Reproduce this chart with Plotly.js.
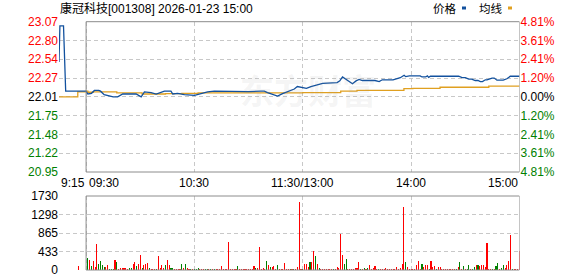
<!DOCTYPE html>
<html><head><meta charset="utf-8">
<script src="https://cdn.plot.ly/plotly-3.0.1.min.js"></script>
<style>html,body{margin:0;padding:0;background:#fff}#chart{width:578px;height:276px}</style>
</head><body><div id="chart"></div>
<script>
// ---------- data ----------
const stockName = '康冠科技';
const stockCode = '001308';
const stamp = '2026-01-23 15:00';
const seriesNames = ['价格', '均线'];
const preClose = 22.01;
const maxPct = 4.81;
const priceTickLabels = ['23.07','22.80','22.54','22.27','22.01','21.75','21.48','21.22','20.95'];
const pctTickLabels = ['4.81%','3.61%','2.41%','1.20%','0.00%','1.20%','2.41%','3.61%','4.81%'];
const volTickVals = [0, 433, 865, 1298, 1730];
const timeTickVals = [-15, 0, 60, 120, 180, 240];
const timeTickLabels = ['9:15', '09:30', '10:30', '11:30/13:00', '14:00', '15:00'];

// minutes from 09:30 (negative = call auction) / price
const priceT = [-15,-14.5,-12.5,-12.2,-11.3,0,1,3,4.6,7,8,10,12.9,15,17.5,20.3,27.7,29,30.5,32.3,36,38.8,40.6,43.4,47,48,50.7,54.4,60,63.7,67.3,71,80,90,96.8,98.7,100.5,103.3,106,108.8,112.5,115.3,117,120,122,124.5,128,131,139,140.5,142,143.8,145.5,147.5,149.5,151.2,153,160,162.3,164,170,172.4,174,176.1,177,179,185,186,188,189,189.7,190.7,206.3,208.2,210,211.9,213.5,215.5,217,218.3,219.5,221.1,222,224.8,226,227.5,231,233,234.9,240];
const priceV = [22.50,23.01,23.01,22.80,22.09,22.09,22.05,22.06,22.10,22.10,22.09,22.04,22.02,22.01,22.01,22.05,22.05,22.03,22.01,22.08,22.07,22.05,22.07,22.09,22.09,22.05,22.06,22.04,22.03,22.055,22.08,22.09,22.085,22.085,22.09,22.09,22.07,22.04,22.02,22.055,22.09,22.12,22.155,22.14,22.13,22.155,22.18,22.20,22.21,22.235,22.29,22.26,22.225,22.195,22.235,22.255,22.24,22.24,22.225,22.25,22.25,22.265,22.28,22.315,22.295,22.305,22.305,22.29,22.29,22.305,22.285,22.30,22.30,22.28,22.28,22.26,22.26,22.24,22.24,22.225,22.225,22.25,22.25,22.275,22.275,22.245,22.245,22.265,22.30,22.30];

const avgT = [-15,-4.6,0,1,4,17,31,44,53,62,120,141,150,176,181,196,223,240];
const avgV = [22.01,22.08,22.09,22.075,22.08,22.065,22.05,22.055,22.06,22.065,22.07,22.09,22.10,22.125,22.13,22.145,22.16,22.16];

// call-auction volume
const preVolT = [-4.3];
const preVolV = [87];
const preVolDir = 'r';
// session volume, minutes 1..240
const volV = [
 290,228,87,205,63,603,150,205,110,70,
 67,110,33,33,33,228,182,33,47,47,
 47,47,33,47,50,150,182,87,150,352,
 40,110,133,157,40,30,30,20,25,321,
 40,118,40,126,236,118,55,40,30,20,
 20,20,150,40,133,40,25,25,20,25,
 20,40,20,20,25,20,25,20,20,25,
 20,20,20,25,87,20,25,20,650,20,
 25,20,25,87,25,20,25,20,20,25,
 20,25,87,40,40,533,30,40,20,212,
 110,70,60,87,30,110,25,20,25,157,
 25,25,20,25,20,25,60,1589,20,30,
 150,150,60,197,182,439,321,133,40,20,
 25,30,20,20,20,30,20,25,60,40,
 838,345,150,251,25,25,20,25,40,50,
 182,25,20,40,25,50,126,20,40,87,
 20,25,20,20,30,40,20,20,25,20,
 20,60,25,50,150,1479,182,60,30,20,
 20,20,126,205,20,150,60,126,110,30,
 205,60,100,20,80,60,30,20,20,30,
 25,25,20,30,30,60,182,25,87,25,
 25,126,25,30,60,110,126,100,118,126,
 60,627,20,25,25,30,95,157,25,50,
 118,50,118,205,807,20,20,15,15,439];
const volDir = (
 'grgrrrgggg'+'rrgggrgrrr'+'rrrggrrgrr'+'grrrgrrrgr'+'rrrgrrggrr'+'rrgrgrrgrg'+
 'ggrrrggrgr'+'grrrrrrrrr'+'rrrgrrrrrr'+'rrrgrrrrrg'+'rgrrrgrrrr'+'rrgrgrrrrg'+
 'rrrgrrgrgr'+'rrrrrrgrrr'+'rrggrrrrrr'+'rgrgrgrrrr'+'rgrrrrrrrr'+'rrrrrrgrrr'+
 'rrrrrgrrrg'+'rrrgrrrrrr'+'rrrrgrgrgr'+'ggrggrgrrr'+'rrrrgrggrg'+'grrrrgrrrr').split('');

// ---------- styling ----------
const W = 578, H = 276;
const RED = '#ff0000', GREEN = '#008000', BLACK = '#000000';
const BLUE = '#12519e', GOLD = '#e0a020';
const GRID = '#c8c8c8', BOX = '#8c8c8c';
const FONT = 'Liberation Sans, Arial, Noto Sans CJK SC, sans-serif';
const px2x = v => v / W;
const px2y = v => 1 - v / H;

const volT = volV.map((_, i) => i + 1);
const allVolT = preVolT.concat(volT);
const allVolV = preVolV.concat(volV);
const allVolC = [preVolDir].concat(volDir).map(d => d === 'r' ? RED : GREEN);

const n = priceTickLabels.length, mid = (n - 1) / 2;
const pctVals = priceTickLabels.map((_, i) => maxPct * (1 - i / mid));
const priceVals = pctVals.map(p => preClose * (1 + p / 100));
const colorFor = i => i < mid ? RED : (i === mid ? BLACK : GREEN);
const span = (c, t) => '<span style="color:' + c + '">' + t + '</span>';

// percent series (same line, right-hand scale) so the right axis is drawn
const pctV = priceV.map(p => (p / preClose - 1) * 100);

const traces = [
  {x: avgT, y: avgV, type: 'scatter', mode: 'lines', line: {color: GOLD, width: 1.3, shape: 'hv'}, xaxis: 'x', yaxis: 'y', hoverinfo: 'skip', name: seriesNames[1]},
  {x: priceT, y: pctV, type: 'scatter', mode: 'lines', line: {color: 'rgba(0,0,0,0)', width: 0}, xaxis: 'x', yaxis: 'y2', hoverinfo: 'skip', showlegend: false},
  {x: priceT, y: priceV, type: 'scatter', mode: 'lines', line: {color: BLUE, width: 1.3}, xaxis: 'x', yaxis: 'y', hoverinfo: 'skip', name: seriesNames[0]},
  {x: allVolT, y: allVolV, type: 'bar', width: 0.6, marker: {color: allVolC, line: {width: 0}}, xaxis: 'x', yaxis: 'y3', hoverinfo: 'skip'}
];

const mainDom = [px2y(172), px2y(21.7)];
const volDom = [px2y(270), px2y(196)];

const axFont = {family: FONT, size: 12, color: BLACK};
const layout = {
  width: W, height: H,
  margin: {l: 0, r: 0, t: 0, b: 0},
  paper_bgcolor: '#ffffff', plot_bgcolor: '#ffffff',
  showlegend: false,
  bargap: 0,
  xaxis: {domain: [px2x(59), px2x(519.5)], range: [-15, 240], tickvals: timeTickVals, showticklabels: false,
          showgrid: true, gridcolor: GRID, griddash: '4px,3px', gridwidth: 1, zeroline: false, showline: false, ticks: '', anchor: 'y', fixedrange: true},
  yaxis: {domain: mainDom, range: [priceVals[n - 1], priceVals[0]], tickvals: priceVals,
          ticktext: priceTickLabels.map((t, i) => span(colorFor(i), t)), tickfont: axFont, ticklabeloverflow: 'allow',
          showgrid: true, gridcolor: GRID, griddash: '4px,3px', zeroline: false, showline: false, ticks: '', anchor: 'x', fixedrange: true},
  yaxis2: {overlaying: 'y', side: 'right', anchor: 'x', range: [-maxPct, maxPct], tickvals: pctVals,
          ticktext: pctTickLabels.map((t, i) => span(colorFor(i), t)), ticklabeloverflow: 'allow',
          tickfont: axFont, showgrid: false, zeroline: false, showline: false, ticks: '', fixedrange: true},
  yaxis3: {domain: volDom, range: [0, volTickVals[volTickVals.length - 1]], tickvals: volTickVals,
          ticktext: volTickVals.map(String), tickfont: axFont, ticklabeloverflow: 'allow',
          showgrid: true, gridcolor: GRID, griddash: '4px,3px', zeroline: false, showline: false, ticks: '', anchor: 'x', fixedrange: true},
  shapes: [
    {type: 'rect', xref: 'x', yref: 'y domain', x0: 0, x1: 240, y0: 0, y1: 1, line: {color: BOX, width: 1}, fillcolor: 'rgba(0,0,0,0)', layer: 'above'},
    {type: 'rect', xref: 'x', yref: 'y3 domain', x0: 0, x1: 240, y0: 0, y1: 1, line: {color: BOX, width: 1}, fillcolor: 'rgba(0,0,0,0)', layer: 'above'},
    {type: 'rect', xref: 'paper', yref: 'paper', x0: px2x(462), x1: px2x(466), y0: px2y(9.5), y1: px2y(6.5), line: {width: 0}, fillcolor: BLUE},
    {type: 'rect', xref: 'paper', yref: 'paper', x0: px2x(508), x1: px2x(512), y0: px2y(9.5), y1: px2y(6.5), line: {width: 0}, fillcolor: GOLD}
  ],
  annotations: [
    {text: '东方财富', xref: 'paper', yref: 'paper', x: px2x(308), y: px2y(89), xanchor: 'center', yanchor: 'middle', showarrow: false,
     font: {family: 'Noto Sans CJK SC', size: 34, color: 'rgba(150,150,150,0.10)', weight: 'bold'}},
    {text: stockName + '[' + stockCode + '] ' + stamp, xref: 'paper', yref: 'paper', x: px2x(58), y: px2y(8), xanchor: 'left', yanchor: 'middle', showarrow: false,
     font: {family: FONT, size: 12, color: BLACK}},
    {text: seriesNames[0], xref: 'paper', yref: 'paper', x: px2x(431), y: px2y(8), xanchor: 'left', yanchor: 'middle', showarrow: false,
     font: {family: 'Noto Sans CJK SC', size: 11.5, color: BLACK}},
    {text: seriesNames[1], xref: 'paper', yref: 'paper', x: px2x(477), y: px2y(8), xanchor: 'left', yanchor: 'middle', showarrow: false,
     font: {family: 'Noto Sans CJK SC', size: 11.5, color: BLACK}}
  ].concat(timeTickVals.map((v, i) => ({
    text: timeTickLabels[i], xref: 'x', yref: 'paper', x: v, y: px2y(183), yanchor: 'middle',
    xanchor: i <= 1 ? 'left' : (i === timeTickVals.length - 1 ? 'right' : 'center'),
    xshift: i === 1 ? 1 : 0,
    showarrow: false, font: axFont
  })))
};

Plotly.newPlot('chart', traces, layout, {staticPlot: true, displayModeBar: false});
</script>
</body></html>
